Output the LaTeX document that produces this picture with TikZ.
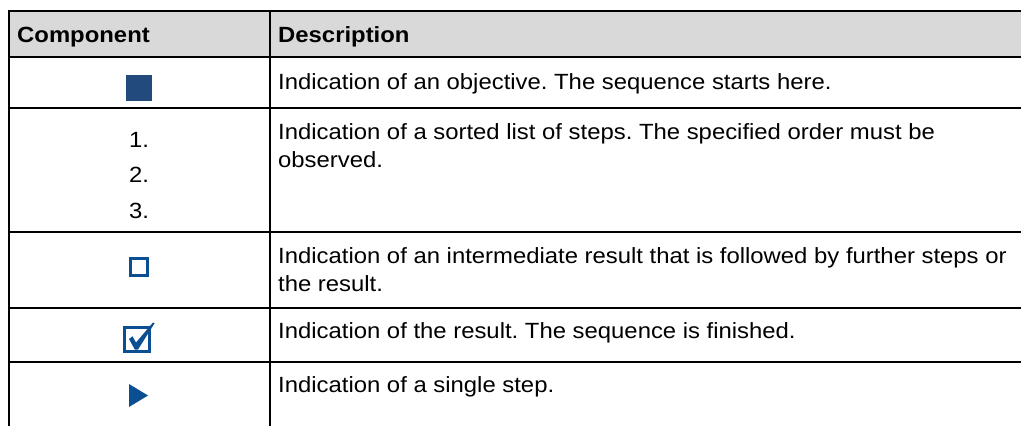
\documentclass[tikz,border=0pt]{standalone}
\usepackage{fontspec}
\setmainfont{Liberation Sans}[FakeStretch=1.085]
\frenchspacing
\definecolor{hdrgray}{HTML}{D9D9D9}
\definecolor{darkblue}{HTML}{234A7C}
\definecolor{iconblue}{HTML}{0B4E92}
\begin{document}
\begin{tikzpicture}[x=1pt,y=-1pt,
  rule/.style={line width=2pt,black},
  cell/.style={inner sep=0pt,anchor=base west,font=\fontsize{22}{28}\selectfont},
  hdr/.style={cell,font=\fontsize{22}{28}\selectfont\bfseries},
  num/.style={inner sep=0pt,anchor=base,font=\fontsize{22}{28}\selectfont}]
\useasboundingbox (0,0) rectangle (1021,426);
\fill[white] (0,0) rectangle (1021,426);
% header background
\fill[hdrgray] (9,11) rectangle (1021,57);
% horizontal rules
\foreach \yy in {11,57,108,232,308,362}
  \draw[rule] (8,\yy) -- (1021,\yy);
% vertical rules
\draw[rule] (9,10) -- (9,426);
\draw[rule] (270,10) -- (270,426);
% header
\node[hdr] (hc) at (17,42) {Component};
\node[hdr] (hd) at (278,42) {Description};
% row 1
\node[fill=darkblue,minimum width=26pt,minimum height=26pt,inner sep=0pt] (objective) at (139,88) {};
\node[cell] (d1) at (278,89) {Indication of an objective. The sequence starts here.};
% row 2
\node[num] (n1) at (139,147.7) {1.};
\node[num] (n2) at (139,182.3) {2.};
\node[num] (n3) at (139,218.3) {3.};
\node[cell] (d2a) at (278,139.3) {Indication of a sorted list of steps. The specified order must be};
\node[cell] (d2b) at (278,167.7) {observed.};
% row 3
\node[draw=iconblue,line width=2.7pt,minimum width=17.3pt,minimum height=17.3pt,inner sep=0pt,outer sep=0pt] (interm) at (139,267) {};
\node[cell] (d3a) at (278,263) {Indication of an intermediate result that is followed by further steps or};
\node[cell] (d3b) at (278,291.5) {the result.};
% row 4
\node[draw=iconblue,line width=3.3pt,minimum width=24.7pt,minimum height=24pt,inner sep=0pt,outer sep=0pt] (result) at (137,339.5) {};
\fill[iconblue] (129,339) -- (132.5,336.3) -- (136,342.5) -- (153,322.5) -- (154.6,323.2) -- (138,349.5) -- (134.8,349.5) -- cycle;
\node[cell] (d4) at (278,338) {Indication of the result. The sequence is finished.};
% row 5
\fill[iconblue] (129,384) -- (148,395.5) -- (129,407) -- cycle;
\node[cell] (d5) at (278,392.7) {Indication of a single step.};
\end{tikzpicture}
\end{document}
